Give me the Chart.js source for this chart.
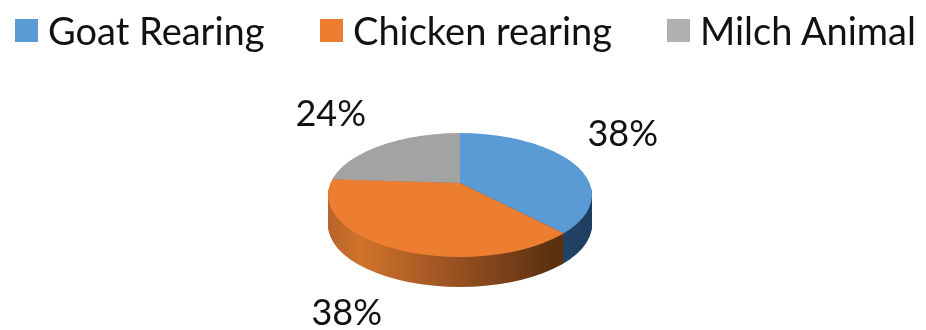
<!DOCTYPE html>
<html>
<head>
<meta charset="utf-8">
<title>Livestock rearing share</title>
<script src="https://cdn.jsdelivr.net/npm/chart.js@4/dist/chart.umd.min.js"></script>
<style>
  html, body { margin: 0; padding: 0; background: #fff; overflow: hidden; }
  #wrap { position: relative; width: 926px; height: 330px; }
  #legend { position: absolute; left: 0; top: 0; width: 926px; height: 60px; }
  .item { position: absolute; top: 6px; height: 48px; white-space: nowrap;
          font: 38px/48px Lato, sans-serif; color: #111; }
  .item i { position: absolute; left: 0; top: 13px; width: 23px; height: 23px; }
  .item span { margin-left: 33px; }
</style>
</head>
<body>
<div id="wrap">
  <canvas id="pie" width="926" height="330"></canvas>
  <div id="legend"></div>
</div>
<script>
const categories = ["Goat Rearing", "Chicken rearing", "Milch Animal"];
const shares = [38, 38, 24];
const topColors = ["#5b9bd5", "#ed7d31", "#a3a3a3"];
const legendColors = ["#5b9bd5", "#ed7d31", "#b0b0b0"];
const legendLeft = [15, 320, 667];

// how the flat pie is laid over to look 3D
const apex = { x: 460, y: 183 };
const rim = { x: 460, y: 195, rx: 132, ry: 62 };
const squash = { x: 1.1, y: 0.5 };
const depth = 30;
// label offset from the projected slice middle
const labelOffsets = [[-6, -18], [-36, 56], [-5, -8]];

const legend = document.getElementById("legend");
categories.forEach((name, i) => {
  const item = document.createElement("div");
  item.className = "item";
  item.style.left = legendLeft[i] + "px";
  item.innerHTML = `<i style="background:${legendColors[i]}"></i><span>${name}</span>`;
  legend.appendChild(item);
});

function drawLayer(chart, offset, fills) {
  const ctx = chart.ctx;
  chart.getDatasetMeta(0).data.forEach((arc, i) => {
    const saved = arc.options;
    ctx.save();
    ctx.beginPath();
    ctx.ellipse(rim.x, rim.y + offset, rim.rx, rim.ry, 0, 0, Math.PI * 2);
    ctx.clip();
    ctx.translate(apex.x, apex.y + offset);
    ctx.scale(squash.x, squash.y);
    ctx.translate(-arc.x, -arc.y);
    arc.options = Object.create(saved);
    arc.options.backgroundColor = fills(arc, i);
    arc.draw(ctx);
    arc.options = saved;
    ctx.restore();
  });
}

function sideFill(chart, arc, i) {
  // gradient runs in the untransformed pie space, so map page x back
  const px = (x) => arc.x + (x - apex.x) / squash.x;
  const g = chart.ctx.createLinearGradient(px(329), 0, px(592), 0);
  if (i === 0) {
    g.addColorStop(0.85, "#24476b");
    g.addColorStop(1, "#1d3d5e");
  } else {
    g.addColorStop(0, "#b8642a");
    g.addColorStop(0.12, "#d0732b");
    g.addColorStop(0.45, "#9c5423");
    g.addColorStop(0.85, "#5c3110");
    g.addColorStop(1, "#5c3110");
  }
  return g;
}

const pie3d = {
  id: "pie3d",
  beforeDatasetsDraw(chart) {
    for (let d = depth; d > 0; d--) {
      drawLayer(chart, d, (arc, i) => sideFill(chart, arc, i));
    }
    drawLayer(chart, 0, (arc, i) => topColors[i]);
    return false;
  },
  afterDraw(chart) {
    const ctx = chart.ctx;
    ctx.save();
    ctx.font = "36px Lato, sans-serif";
    ctx.fillStyle = "#111";
    ctx.textAlign = "center";
    ctx.textBaseline = "middle";
    chart.getDatasetMeta(0).data.forEach((arc, i) => {
      const mid = (arc.startAngle + arc.endAngle) / 2;
      const x = apex.x + Math.cos(mid) * arc.outerRadius * squash.x + labelOffsets[i][0];
      const y = apex.y + Math.sin(mid) * arc.outerRadius * squash.y + labelOffsets[i][1];
      ctx.fillText(shares[i] + "%", x, y);
    });
    ctx.restore();
  },
};

new Chart(document.getElementById("pie"), {
  type: "pie",
  data: {
    labels: categories,
    datasets: [{ data: shares, backgroundColor: topColors, borderWidth: 0, hoverOffset: 0 }],
  },
  options: {
    responsive: false,
    animation: false,
    events: [],
    layout: { padding: 0 },
    plugins: { legend: { display: false }, tooltip: { enabled: false } },
  },
  plugins: [pie3d],
});
</script>
</body>
</html>
